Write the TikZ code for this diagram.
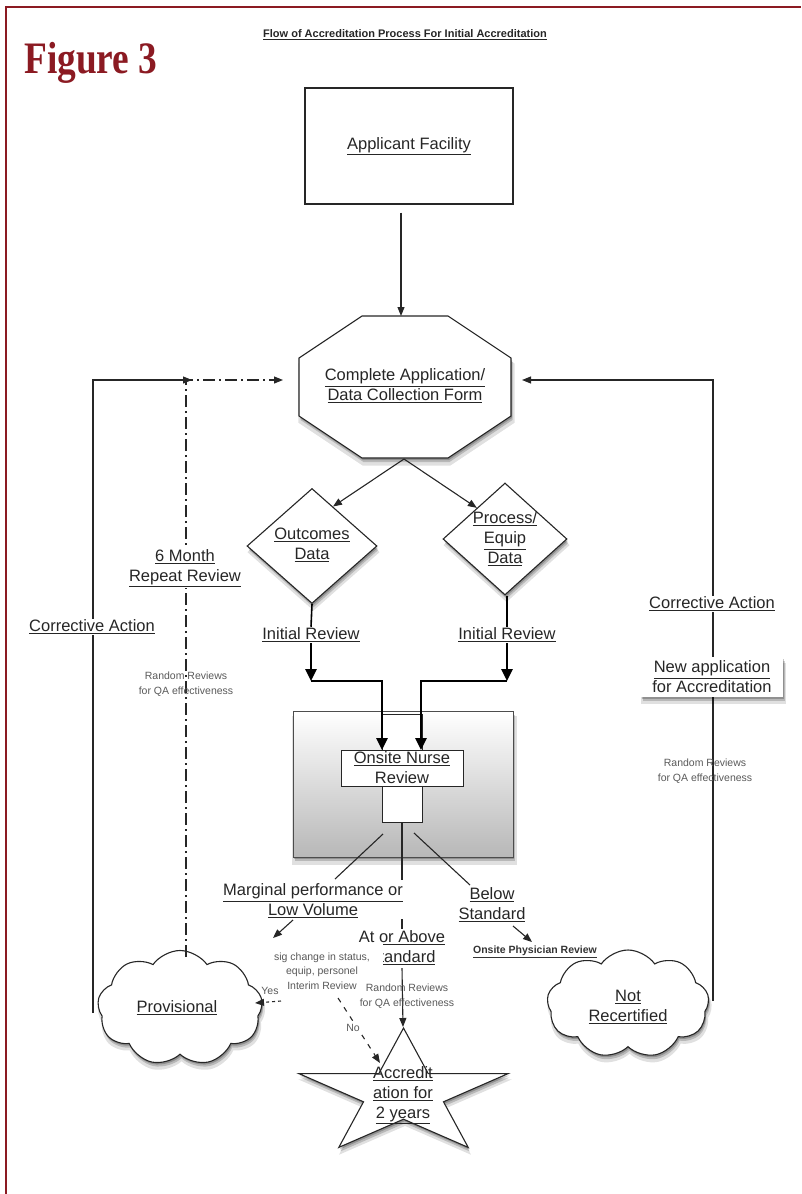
\documentclass[tikz,border=0pt]{standalone}
\usepackage{graphicx}
\usepackage{fontspec}
\setmainfont{Liberation Sans}
\newfontfamily\figfont{Liberation Serif}
\usetikzlibrary{arrows.meta,shapes.geometric,shapes.symbols,shadows,calc}
\definecolor{figred}{HTML}{8B1A22}
\newcommand{\myul}[1]{\underline{#1}}
\begin{document}
\begin{tikzpicture}[x=1pt,y=-1pt,
  ln/.style={line width=1.1pt, draw=black!85},
  arr/.style={ln, -{Triangle[length=9pt,width=7pt]}},
  tarr/.style={line width=2.6pt, draw=black, -{Triangle[length=12pt,width=11pt]}},
  lbl/.style={font=\fontsize{16.5}{20}\selectfont, align=center, inner sep=1pt, text=black!85},
  smalltxt/.style={font=\fontsize{10.5}{14.5}\selectfont, align=center, inner sep=1pt, text=black!65},
  shad/.style={drop shadow={shadow xshift=1.5pt, shadow yshift=-6pt, opacity=0.12, fill=black, shadow scale=1.02},
               drop shadow={shadow xshift=1.5pt, shadow yshift=-4pt, opacity=0.18, fill=black},
               drop shadow={shadow xshift=1pt, shadow yshift=-2pt, opacity=0.22, fill=black}},
  dashdot/.style={dash pattern=on 12pt off 4pt on 2pt off 4pt},
  whitebg/.style={fill=white}]
\useasboundingbox (0,0) rectangle (801,1194);
% frame
\draw[figred, line width=1.2pt] (6,1194) -- (6,7) -- (801,7);
\node[anchor=base west, text=figred, font=\figfont\bfseries\fontsize{45}{45}\selectfont, inner sep=0] (fig) at (24,73) {\scalebox{0.83}[1]{Figure 3}};
\node[font=\bfseries\fontsize{11}{13}\selectfont, text=black!85, inner sep=1pt] (title) at (405,35) {\myul{Flow of Accreditation Process For Initial Accreditation}};

% applicant facility
\node[draw=black!85, line width=1.1pt, minimum width=208, minimum height=116, lbl] (app) at (409,146) {\myul{Applicant Facility}};

% octagon
\draw[ln, fill=white, shad] (362,316) -- (448,316) -- (511,358) -- (511,416) -- (448,458) -- (362,458) -- (299,416) -- (299,358) -- cycle;
\node[lbl] (oct) at (405,386) {\myul{Complete Application/}\\\myul{Data Collection Form}};
\coordinate (octN) at (401,316);
\coordinate (octW) at (283,380);
\coordinate (octE) at (522,380);
\coordinate (fork) at (404,459);
\draw[arr, shorten <=8pt] (app.south -| octN) -- (octN);

% diamonds
\node[diamond, draw=black!85, line width=1.1pt, fill=white, shad, minimum width=130, minimum height=115, inner sep=0] (outc) at (312,546) {};
\node[lbl] (outct) at (312,545) {\myul{Outcomes}\\\myul{Data}};
\node[diamond, draw=black!85, line width=1.1pt, fill=white, shad, minimum width=124, minimum height=112, inner sep=0] (proc) at (505,539) {};
\node[lbl] (proct) at (505,539) {\myul{Process/}\\\myul{Equip}\\\myul{Data}};
\draw[arr] (fork) -- ($(outc.north)!0.32!(outc.east)$);
\draw[arr] (fork) -- ($(proc.north)!0.45!(proc.west)$);

% initial reviews
\node[lbl] (ir1) at (311,635) {\myul{Initial Review}};
\node[lbl] (ir2) at (507,635) {\myul{Initial Review}};
\coordinate (c1) at (311,681);
\coordinate (c2) at (507,681);
\coordinate (nin1) at (382,750);
\coordinate (nin2) at (421,750);
\draw[line width=1.6pt] (outc.south) -- (ir1.north);
\draw[line width=1.6pt] (proc.south -| c2) -- (ir2.north -| c2);
\draw[tarr] (ir1.south) -- (c1);
\draw[tarr] (ir2.south -| c2) -- (c2);

% gray box
\node[draw=black!70, line width=1pt, top color=white, bottom color=black!28, shad, minimum width=220, minimum height=146] (gbox) at (403,784) {};
\node[draw=black!85, line width=0.9pt, fill=white, minimum width=40, minimum height=36, inner sep=0] (stem) at (402,732) {};
\node[draw=black!85, line width=0.9pt, fill=white, minimum width=40, minimum height=36, inner sep=0] (foot) at (402,804) {};
\node[draw=black!85, line width=0.9pt, fill=white, minimum width=122, minimum height=36, inner sep=0, lbl] (nurse) at (402,768) {\myul{Onsite Nurse}\\Review};
\draw[tarr] (c1) -| (nin1);
\draw[tarr] (c2) -| (nin2);

% outcome branches
\coordinate (dl1) at (383,834); \coordinate (dl2) at (335,879);
\coordinate (dr1) at (414,833); \coordinate (dr2) at (470,885);
\coordinate (m1) at (402,880); \coordinate (m2) at (402,919); \coordinate (m3) at (402,929); \coordinate (m4) at (402,968);
\coordinate (starTop) at (403,1027);
\draw[ln] (dl1) -- (dl2);
\draw[ln] (dr1) -- (dr2);
\draw[ln] (foot.south) -- (m1);
\draw[ln] (m2) -- (m3);
\draw[arr] (m4) -- (starTop);

\node[lbl] (marg) at (313,901) {\myul{Marginal performance or}\\\myul{Low Volume}};
\node[lbl] (below) at (492,905) {\myul{Below}\\\myul{Standard}};
\node[lbl] (atab) at (402,948) {\myul{At or Above}\\\myul{Standard}};
\node[smalltxt, fill=white, minimum width=122, minimum height=54] (sig) at (322,971) {sig change in status,\\equip, personel\\Interim Review};
\node[smalltxt] (rr3) at (407,996) {Random Reviews\\for QA effectiveness};
\node[font=\bfseries\fontsize{10.5}{12}\selectfont, text=black!80, inner sep=1pt] (phys) at (535,952) {\myul{Onsite Physician Review}};

\coordinate (lv1) at (293,920); \coordinate (lv2) at (273,938);
\coordinate (bs1) at (513,926); \coordinate (bs2) at (532,942);
\draw[arr] (lv1) -- (lv2);
\draw[arr] (bs1) -- (bs2);

% clouds
\node[cloud, cloud puffs=9, cloud puff arc=110, draw=black!85, line width=1.1pt, fill=white, shad, minimum width=165, minimum height=115, inner sep=0] (prov) at (180,1008) {};
\node[lbl] (provt) at (177,1008) {\myul{Provisional}};
\node[cloud, cloud puffs=9, cloud puff arc=110, draw=black!85, line width=1.1pt, fill=white, shad, minimum width=162, minimum height=108, inner sep=0] (notr) at (628,1004) {};
\node[lbl] (notrt) at (628,1007) {\myul{Not}\\\myul{Recertified}};

% yes / no
\coordinate (y1) at (281,1001); \coordinate (y2) at (255,1003);
\coordinate (n1) at (338,998); \coordinate (n2) at (380,1063);
\draw[arr, dashed] (y1) -- (y2);
\draw[arr, dash pattern=on 5pt off 6pt] (n1) -- (n2);
\node[smalltxt] (yes) at (270,991) {Yes};
\node[smalltxt, fill=white] (no) at (353,1028) {No};

% star
\draw[ln, fill=white, shad] (403.5,1028) -- (428.2,1073.6) -- (508.1,1073.6) -- (443.5,1101.8) -- (468.2,1147.4) -- (403.5,1119.2) -- (338.8,1147.4) -- (363.5,1101.8) -- (298.9,1073.6) -- (378.8,1073.6) -- cycle;
\node[lbl] (star) at (403,1095) {\myul{Accredit}\\\myul{ation for}\\\myul{2 years}};

% left loops
\coordinate (lb) at (93,1013);
\coordinate (lt) at (192,380);
\draw[arr] (lb) |- (lt);
\coordinate (pb) at (186,957);
\draw[ln, dashdot, -{Triangle[length=9pt,width=7pt]}] (pb) |- (octW);
\node[lbl, fill=white] (ca1) at (92,627) {\myul{Corrective Action}};
\node[lbl, fill=white] (six) at (185,568) {\myul{6 Month}\\\myul{Repeat Review}};
\node[smalltxt] (rr1) at (186,684) {Random Reviews\\for QA effectiveness};

% right loop
\coordinate (rb) at (713,1001);
\draw[arr] (rb) |- (octE);
\node[lbl, fill=white] (ca2) at (712,604) {\myul{Corrective Action}};
\node[lbl, fill=white, shad, minimum width=142, minimum height=40] (newapp) at (712,677) {\myul{New application}\\for Accreditation};
\node[smalltxt] (rr2) at (705,771) {Random Reviews\\for QA effectiveness};
\end{tikzpicture}
\end{document}
